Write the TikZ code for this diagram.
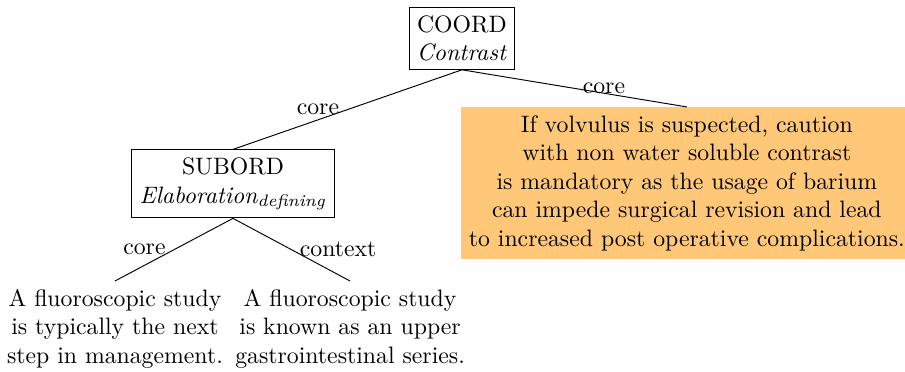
\documentclass[tikz,border=0pt]{standalone}
\usepackage{amsmath}
\definecolor{boxorange}{RGB}{255,200,120}
\begin{document}
\begin{tikzpicture}[x=1pt,y=1pt,
  rel/.style={draw, align=center, fill=white},
  leaf/.style={align=center, anchor=north},
  hl/.style={align=center, fill=boxorange, anchor=north},
  lblL/.style={midway, anchor=east},
  lblR/.style={midway, anchor=west}]
\useasboundingbox (0,0) rectangle (381.05,156.63);
\node[rel] (coord) at (194.5,140.4) {COORD\\ \textit{Contrast}};
\node[rel] (sub) at (98.1,79.2) {SUBORD\\ $\textit{Elaboration}_{\textit{defining}}$};
\node[hl] (nuc) at (289.2,111.6) {If volvulus is suspected, caution\\ with non water soluble contrast\\ is mandatory as the usage of barium\\ can impede surgical revision and lead\\ to increased post operative complications.};
\node[leaf] (l1) at (48.4,38.3) {A fluoroscopic study\\ is typically the next\\ step in management.};
\node[leaf] (l2) at (147.4,38.3) {A fluoroscopic study\\ is known as an upper\\ gastrointestinal series.};
\draw (coord.south) -- node[lblL] {core} (sub.north);
\draw (coord.south) -- node[lblR] {core} (nuc.north);
\draw (sub.south) -- node[lblL] {core} (l1.north);
\draw (sub.south) -- node[lblR] {context} (l2.north);
\end{tikzpicture}
\end{document}
